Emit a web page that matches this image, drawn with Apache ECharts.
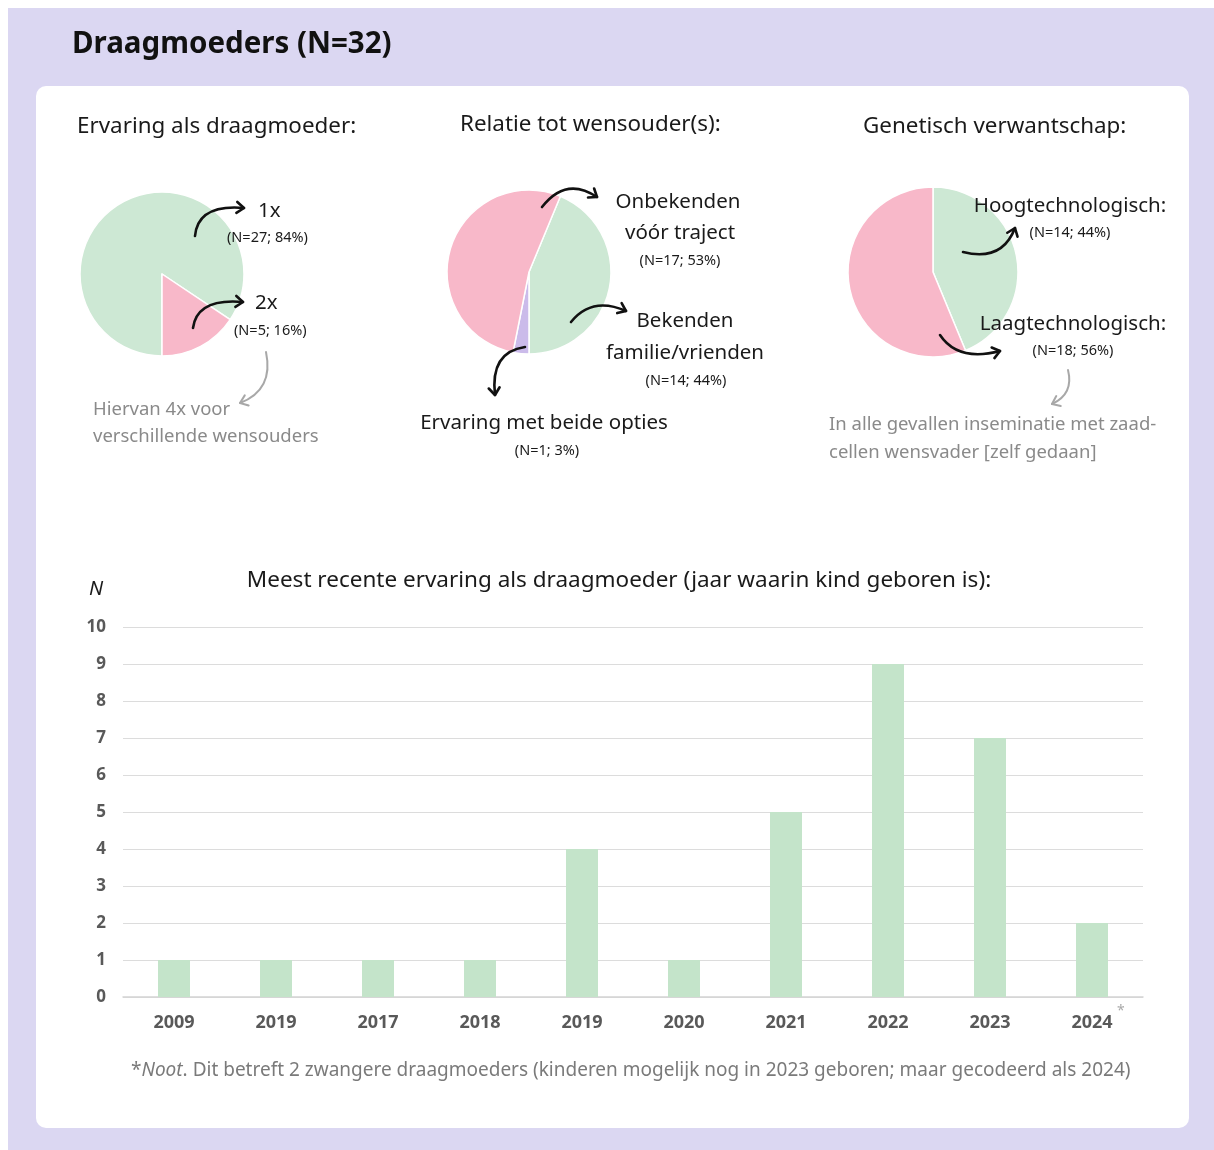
<!DOCTYPE html>
<html>
<head>
<meta charset="utf-8">
<script src="https://cdn.jsdelivr.net/npm/echarts@6/dist/echarts.min.js"></script>
<style>
html,body{margin:0;padding:0;background:#ffffff;}
#c{width:1214px;height:1150px;}
</style>
</head>
<body>
<div id="c"></div>
<script>
// ---- DATA ----
const pie1Names = ['1x', '2x'];
const pie1Values = [27, 5];
const pie1Pct = [84, 16];

const pie2Names = ['Bekenden familie/vrienden', 'Ervaring met beide opties', 'Onbekenden vóór traject'];
const pie2Values = [14, 1, 17];
const pie2Pct = [44, 3, 53];

const pie3Names = ['Hoogtechnologisch:', 'Laagtechnologisch:'];
const pie3Values = [14, 18];
const pie3Pct = [44, 56];

const barYears = ['2009', '2019', '2017', '2018', '2019', '2020', '2021', '2022', '2023', '2024'];
const barValues = [1, 1, 1, 1, 4, 1, 5, 9, 7, 2];
const yTicks = [0, 10, 1]; // min, max, interval

// ---- STYLE ----
const GREEN = '#cde8d4';
const BAR_GREEN = '#c4e4ca';
const PINK = '#f8b8c9';
const PURPLE = '#cbbbea';
const LAV = '#dbd7f2';
const FONT = '"Noto Sans", sans-serif';
const GRAY = '#8a8a8a';

function nLabel(v, p) { return '(N=' + v + '; ' + p + '%)'; }

function txt(x, y, text, size, opts) {
  opts = opts || {};
  return {
    type: 'text', x: x, y: y, silent: true, z: 10,
    style: Object.assign({
      text: text, fill: opts.fill || '#1a1a1a', font: (opts.weight || 'normal') + ' ' + size + 'px ' + FONT,
      textAlign: opts.align || 'left', textVerticalAlign: 'middle'
    }, opts.style || {})
  };
}

function arrow(p0, cp, p1, color, w) {
  color = color || '#111';
  w = w || 2.6;
  const dx = p1[0] - cp[0], dy = p1[1] - cp[1];
  const a = Math.atan2(dy, dx);
  const L = 9, s = 0.65;
  const h1 = [p1[0] - L * Math.cos(a - s), p1[1] - L * Math.sin(a - s)];
  const h2 = [p1[0] - L * Math.cos(a + s), p1[1] - L * Math.sin(a + s)];
  return [
    { type: 'bezierCurve', silent: true, z: 10,
      shape: { x1: p0[0], y1: p0[1], cpx1: cp[0], cpy1: cp[1], x2: p1[0], y2: p1[1] },
      style: { stroke: color, lineWidth: w, fill: null, lineCap: 'round' } },
    { type: 'polyline', silent: true, z: 10,
      shape: { points: [h1, p1, h2] },
      style: { stroke: color, lineWidth: w, fill: null, lineCap: 'round', lineJoin: 'round' } }
  ];
}

const ANN = 20.5, SMALL = 14.5, GRAYSZ = 18.5, HEAD = 22.4;

const graphics = [
  { type: 'rect', z: -10, silent: true, shape: { x: 8, y: 8, width: 1206, height: 1142 }, style: { fill: LAV } },
  { type: 'rect', z: -9, silent: true, shape: { x: 36, y: 86, width: 1153, height: 1042, r: 10 }, style: { fill: '#ffffff' } },
  txt(72, 45, 'Draagmoeders (N=32)', 29.5, { weight: 'bold', fill: '#111' }),
  txt(77, 127, 'Ervaring als draagmoeder:', HEAD),
  txt(460, 125, 'Relatie tot wensouder(s):', HEAD),
  txt(863, 127, 'Genetisch verwantschap:', HEAD),

  // pie 1 annotations
  txt(258, 211, pie1Names[0], ANN),
  txt(227, 238, nLabel(pie1Values[0], pie1Pct[0]), SMALL),
  txt(255, 303, pie1Names[1], ANN),
  txt(234, 331, nLabel(pie1Values[1], pie1Pct[1]), SMALL),
  txt(93, 410, 'Hiervan 4x voor', GRAYSZ, { fill: GRAY }),
  txt(93, 437, 'verschillende wensouders', GRAYSZ, { fill: GRAY }),

  // pie 2 annotations
  txt(678, 202, 'Onbekenden', ANN, { align: 'center' }),
  txt(680, 233, 'vóór traject', ANN, { align: 'center' }),
  txt(680, 261, nLabel(pie2Values[2], pie2Pct[2]), SMALL, { align: 'center' }),
  txt(685, 321, 'Bekenden', ANN, { align: 'center' }),
  txt(685, 353, 'familie/vrienden', ANN, { align: 'center' }),
  txt(686, 381, nLabel(pie2Values[0], pie2Pct[0]), SMALL, { align: 'center' }),
  txt(544, 423, pie2Names[1], ANN, { align: 'center' }),
  txt(547, 451, nLabel(pie2Values[1], pie2Pct[1]), SMALL, { align: 'center' }),

  // pie 3 annotations
  txt(1070, 206, pie3Names[0], ANN, { align: 'center' }),
  txt(1070, 233, nLabel(pie3Values[0], pie3Pct[0]), SMALL, { align: 'center' }),
  txt(1073, 324, pie3Names[1], ANN, { align: 'center' }),
  txt(1073, 351, nLabel(pie3Values[1], pie3Pct[1]), SMALL, { align: 'center' }),
  txt(829, 425, 'In alle gevallen inseminatie met zaad-', GRAYSZ, { fill: GRAY }),
  txt(829, 453, 'cellen wensvader [zelf gedaan]', GRAYSZ, { fill: GRAY }),

  // bar chart texts
  txt(619, 581, 'Meest recente ervaring als draagmoeder (jaar waarin kind geboren is):', 22.5, { align: 'center' }),
  txt(89, 589, 'N', 20, { style: { font: 'italic 20px ' + FONT } }),
  txt(1117, 1011, '*', 14, { fill: '#aaaaaa' }),
  {
    type: 'text', x: 131, y: 1071, silent: true, z: 10,
    style: {
      text: '*{i|Noot}. Dit betreft 2 zwangere draagmoeders (kinderen mogelijk nog in 2023 geboren; maar gecodeerd als 2024)',
      fill: '#7a7a7a', font: '19px ' + FONT, textVerticalAlign: 'middle',
      rich: { i: { fontStyle: 'italic', fontSize: 19, fontFamily: FONT, fill: '#7a7a7a' } }
    }
  }
];

[].concat(
  arrow([195, 236], [198, 204], [244, 208]),
  arrow([193, 328], [197, 298], [243, 302]),
  arrow([266, 352], [274, 390], [240, 403], '#a8a8a8', 2),
  arrow([542, 207], [566, 176], [597, 197]),
  arrow([571, 322], [592, 296], [626, 311]),
  arrow([525, 347], [490, 352], [495, 395]),
  arrow([963, 252], [1002, 262], [1015, 228]),
  arrow([940, 335], [958, 362], [1000, 351]),
  arrow([1068, 370], [1074, 394], [1052, 404], '#a8a8a8', 2)
).forEach(g => graphics.push(g));

const chart = echarts.init(document.getElementById('c'), null, { renderer: 'canvas' });

function pieSeries(center, radius, names, values, colors, startAngle) {
  return {
    type: 'pie', center: center, radius: radius, startAngle: startAngle, clockwise: true,
    label: { show: false }, labelLine: { show: false }, silent: true, animation: false,
    itemStyle: { borderColor: '#ffffff', borderWidth: 1.5 },
    data: names.map((n, i) => ({ name: n, value: values[i], itemStyle: { color: colors[i] } }))
  };
}

chart.setOption({
  animation: false,
  textStyle: { fontFamily: FONT },
  grid: { left: 123, right: 71, top: 627, bottom: 153 },
  xAxis: {
    type: 'category', data: barYears,
    axisLine: { lineStyle: { color: '#d4d4d4', width: 1.5 } },
    axisTick: { show: false },
    axisLabel: { color: '#595959', fontWeight: 'bold', fontSize: 18, margin: 17, fontFamily: '"Open Sans", sans-serif' }
  },
  yAxis: {
    type: 'value', min: yTicks[0], max: yTicks[1], interval: yTicks[2],
    axisLine: { show: false }, axisTick: { show: false },
    splitLine: { lineStyle: { color: '#dcdcdc', width: 1.2 } },
    axisLabel: { color: '#595959', fontWeight: 'bold', fontSize: 17, margin: 17, fontFamily: '"Open Sans", sans-serif' }
  },
  series: [
    {
      type: 'bar', data: barValues, barWidth: 32, silent: true,
      itemStyle: { color: BAR_GREEN }
    },
    pieSeries([162, 274], 82, pie1Names, pie1Values, [GREEN, PINK], 270),
    pieSeries([529, 272], 82, pie2Names, pie2Values, [GREEN, PURPLE, PINK], 67.5),
    pieSeries([933, 272], 85, pie3Names, pie3Values, [GREEN, PINK], 90)
  ],
  graphic: graphics
});
</script>
</body>
</html>
